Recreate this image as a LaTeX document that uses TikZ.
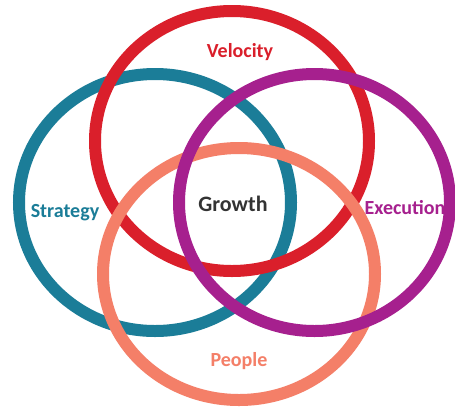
\documentclass[tikz,border=0pt]{standalone}
\usepackage{fontspec}
\setmainfont{Carlito}
\definecolor{cteal}{HTML}{1B7D98}
\definecolor{cred}{HTML}{DA1F2B}
\definecolor{csalmon}{HTML}{F47F68}
\definecolor{cmagenta}{HTML}{A6208E}
\definecolor{cgrowth}{HTML}{333333}
\tikzset{
  ring/.style={line width=12pt},
  lbl/.style={font=\bfseries\fontsize{20}{24}\selectfont, inner sep=0pt},
}
\begin{document}
\begin{tikzpicture}[x=1pt,y=-1pt]
\useasboundingbox (0,0) rectangle (455,408);
\fill[white] (0,0) rectangle (455,408);
\draw[ring, cteal] (155,202.5) ellipse [x radius=136pt, y radius=128.5pt];
\draw[ring, cred] (232,141) ellipse [x radius=137pt, y radius=130pt];
\draw[ring, csalmon] (239,274) ellipse [x radius=136pt, y radius=126pt];
\draw[ring, cmagenta] (314.5,202.5) ellipse [x radius=135.5pt, y radius=128.5pt];
\node[lbl, text=cred] (velocity) at (240,52) {Velocity};
\node[lbl, text=cteal] (strategy) at (65,213) {Strategy};
\node[lbl, text=cmagenta] (execution) at (405,208) {Execution};
\node[lbl, text=csalmon] (people) at (239,361) {People};
\node[lbl, text=cgrowth, font=\bfseries\fontsize{22}{26}\selectfont] (growth) at (233,204) {Growth};
\end{tikzpicture}
\end{document}
